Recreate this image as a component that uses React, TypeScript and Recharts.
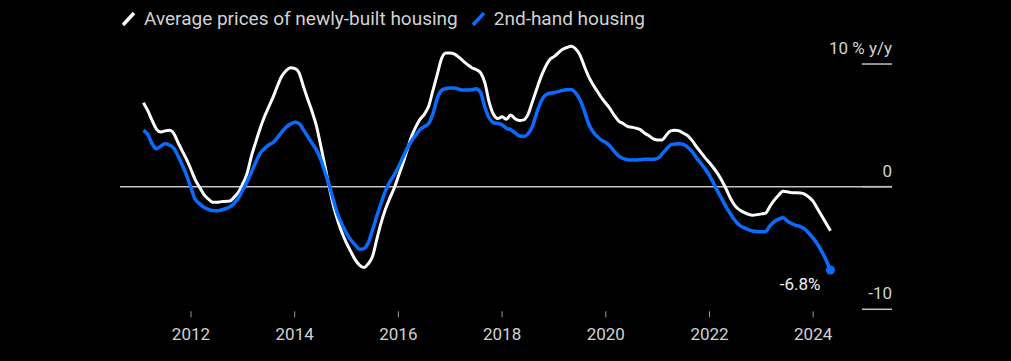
import { Line, LineChart, ReferenceLine, XAxis, YAxis } from "recharts";

// monthly y/y % change, Jan 2011 - Apr 2024
const START_YEAR = 2011;

const newBuilt = [
  6.85, 6.2, 5.4, 4.7, 4.45, 4.55, 4.6, 4.35, 3.6, 2.9, 2.2, 1.4,
  0.55, -0.05, -0.65, -1.0, -1.27, -1.28, -1.22, -1.2, -1.17, -0.85, -0.45, 0.25,
  1.1, 2.5, 3.65, 4.75, 5.7, 6.5, 7.3, 8.2, 9.0, 9.45, 9.7, 9.65,
  9.3, 8.2, 7.15, 6.15, 5.0, 3.4, 1.7, -0.05, -1.6, -2.8, -3.8, -4.6,
  -5.3, -5.95, -6.4, -6.6, -6.3, -5.7, -4.3, -2.95, -1.85, -0.95, -0.15, 0.85,
  1.85, 2.95, 4.05, 4.85, 5.49, 5.9, 6.55, 7.85, 9.15, 10.45, 10.9, 10.9,
  10.8, 10.55, 10.24, 9.95, 9.7, 9.55, 9.3, 8.5, 6.9, 5.9, 5.55, 5.7,
  5.5, 5.85, 5.54, 5.4, 5.45, 5.9, 6.9, 7.95, 8.95, 9.75, 10.35, 10.6,
  10.9, 11.2, 11.35, 11.45, 11.25, 10.75, 9.85, 9.0, 8.35, 7.8, 7.25, 6.8,
  6.35, 5.8, 5.35, 5.15, 4.92, 4.85, 4.77, 4.65, 4.35, 4.15, 3.9, 3.8,
  3.8, 4.2, 4.55, 4.6, 4.55, 4.35, 4.15, 3.75, 3.25, 2.8, 2.35, 1.95,
  1.5, 1.0, 0.4, -0.3, -1.05, -1.6, -1.9, -2.1, -2.25, -2.33, -2.28, -2.22,
  -2.15, -1.6, -1.1, -0.7, -0.38, -0.42, -0.49, -0.5, -0.52, -0.6, -0.85, -1.2,
  -1.8, -2.4, -3.0, -3.6,
];

const secondHand = [
  4.6, 4.25, 3.5, 3.1, 3.3, 3.5, 3.4, 3.15, 2.5, 1.75, 0.9, -0.1,
  -1.05, -1.4, -1.68, -1.85, -1.95, -1.97, -1.9, -1.8, -1.65, -1.35, -0.9, -0.25,
  0.4, 1.2, 2.0, 2.7, 3.1, 3.4, 3.6, 4.0, 4.45, 4.85, 5.1, 5.25,
  5.15, 4.65, 4.1, 3.55, 3.0, 2.25, 1.2, 0.1, -1.15, -2.3, -3.1, -3.8,
  -4.35, -4.75, -5.1, -5.05, -4.6, -3.55, -2.4, -1.35, -0.35, 0.4, 0.95, 1.6,
  2.35, 3.1, 3.7, 4.2, 4.67, 4.9, 5.15, 5.95, 7.2, 7.85, 8.0, 8.05,
  8.05, 7.95, 7.88, 7.88, 7.9, 7.99, 7.7, 6.5, 5.6, 5.22, 5.15, 5.05,
  4.75, 4.65, 4.4, 4.13, 4.1, 4.3, 4.9, 6.0, 6.95, 7.45, 7.62, 7.66,
  7.75, 7.85, 7.9, 7.93, 7.65, 7.1, 6.2, 5.15, 4.5, 4.1, 3.8, 3.6,
  3.3, 2.85, 2.5, 2.3, 2.2, 2.18, 2.17, 2.2, 2.23, 2.23, 2.23, 2.3,
  2.65, 3.05, 3.4, 3.48, 3.5, 3.45, 3.2, 2.85, 2.35, 1.9, 1.45, 0.9,
  0.25, -0.45, -1.1, -1.75, -2.3, -2.8, -3.15, -3.35, -3.5, -3.62, -3.66, -3.68,
  -3.65, -3.2, -2.85, -2.65, -2.53, -2.8, -3.0, -3.15, -3.25, -3.45, -3.8, -4.2,
  -4.7, -5.3, -6.0, -6.8,
];

const yearTicks = [2012, 2014, 2016, 2018, 2020, 2022, 2024];
const valueTicks = [-10, 0, 10];
const unitLabel = "% y/y";

const legendItems = [
  { label: "Average prices of newly-built housing", color: "#ffffff" },
  { label: "2nd-hand housing", color: "#0a6cff" },
];

const WHITE = "#ffffff";
const BLUE = "#0a6cff";
const GRID = "#c4c4c4";
const TEXT = "#d2d2d2";
const FONT = "Roboto, 'Noto Sans', sans-serif";
const Y_TICK = 30;

const chartData = newBuilt.map((value, i) => ({
  t: START_YEAR + (i + 1) / 12,
  newBuilt: value,
  secondHand: secondHand[i],
}));

function YearTick({ x, y, payload }: any) {
  return (
    <g>
      <line x1={x} x2={x} y1={y + 2} y2={y + 8} stroke="#9a9a9a" strokeWidth={1} />
      <text x={x} y={y + 31} textAnchor="middle" fill={TEXT} fontSize={17} fontFamily={FONT}>
        {payload.value}
      </text>
    </g>
  );
}

// labels sit above the short grid stubs on the right edge
function ValueTick({ x, y, payload }: any) {
  const label = payload.value === 10 ? `10 ${unitLabel}` : String(payload.value);
  return (
    <text x={x + Y_TICK} y={y - 10} textAnchor="end" fill={TEXT} fontSize={17} fontFamily={FONT}>
      {label}
    </text>
  );
}

function LastPoint({ cx, cy, index, value }: any) {
  if (index !== secondHand.length - 1) {
    return <g key={`dot-${index}`} />;
  }
  return (
    <g key={`dot-${index}`}>
      <circle cx={cx} cy={cy} r={4.5} fill={BLUE} />
      <text x={cx - 10} y={cy + 20} textAnchor="end" fill="#f0f0f0" fontSize={17} fontFamily={FONT}>
        {`${value.toFixed(1)}%`}
      </text>
    </g>
  );
}

function LegendRow() {
  return (
    <div
      style={{
        position: "absolute",
        left: 121,
        top: 7,
        display: "flex",
        alignItems: "center",
        fontFamily: FONT,
        fontSize: 19,
        color: TEXT,
      }}
    >
      {legendItems.map((item, i) => (
        <div
          key={item.label}
          style={{ display: "flex", alignItems: "center", marginLeft: i === 0 ? 0 : 13 }}
        >
          <svg width={15} height={16}>
            <line x1={2} y1={14} x2={13} y2={2} stroke={item.color} strokeWidth={3.5} />
          </svg>
          <span style={{ marginLeft: 8 }}>{item.label}</span>
        </div>
      ))}
    </div>
  );
}

export default function App() {
  return (
    <div
      style={{
        position: "fixed",
        left: 0,
        top: 0,
        width: 1011,
        height: 361,
        background: "#000",
        overflow: "hidden",
      }}
    >
      <LineChart
        width={1011}
        height={361}
        data={chartData}
        margin={{ top: 39.5, right: 119, left: 120, bottom: 21.7 }}
      >
        <XAxis
          dataKey="t"
          type="number"
          domain={[2010.631, 2025.52]}
          ticks={yearTicks}
          height={30}
          axisLine={false}
          tickLine={false}
          tickSize={0}
          tickMargin={0}
          tick={<YearTick />}
          interval={0}
        />
        <YAxis
          orientation="right"
          mirror
          width={1}
          domain={[-10, 12]}
          ticks={valueTicks}
          axisLine={false}
          tickSize={Y_TICK}
          tickMargin={0}
          tickLine={{ stroke: GRID, strokeWidth: 1.5 }}
          tick={<ValueTick />}
          interval={0}
        />
        <ReferenceLine y={0} stroke={GRID} strokeWidth={1.5} />
        <Line
          dataKey="newBuilt"
          type="monotone"
          stroke={WHITE}
          strokeWidth={3}
          dot={false}
          activeDot={false}
          isAnimationActive={false}
        />
        <Line
          dataKey="secondHand"
          type="monotone"
          stroke={BLUE}
          strokeWidth={3.5}
          dot={<LastPoint />}
          activeDot={false}
          isAnimationActive={false}
        />
      </LineChart>
      <LegendRow />
    </div>
  );
}
